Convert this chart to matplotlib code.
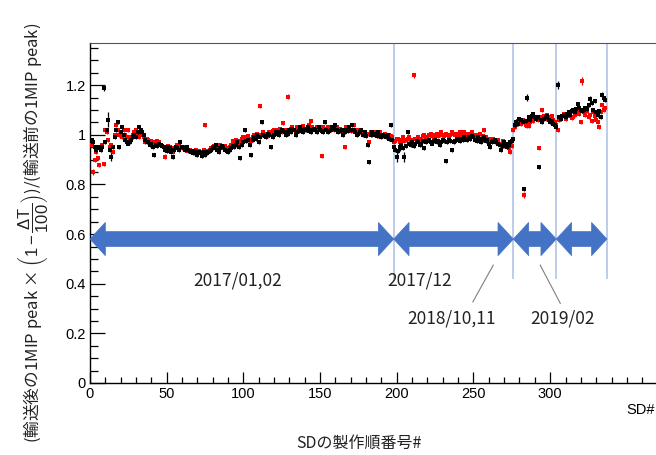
import numpy as np
import matplotlib
matplotlib.use("Agg")
import matplotlib.pyplot as plt
from matplotlib.patches import Polygon
from matplotlib.ticker import MultipleLocator, FixedLocator, FixedFormatter

plt.rcParams['font.family'] = ['Liberation Sans', 'DejaVu Sans']
plt.rcParams['mathtext.fontset'] = 'custom'
plt.rcParams['mathtext.rm'] = 'Liberation Sans'
plt.rcParams['mathtext.it'] = 'Liberation Sans:italic'
plt.rcParams['mathtext.bf'] = 'Liberation Sans:bold'

# ---------------- data ----------------
black = [
    0.98, 0.97, 0.95, 0.94, 0.95, 0.945, 0.94, 0.95, 1.19, 0.97,
    1.02, 1.06, 0.94, 0.91, 0.95, 0.99, 1.02, 1.05, 0.95, 1.01,
    1.03, 1.00, 0.98, 0.97, 0.965, 0.97, 0.98, 0.99, 1.00, 0.99,
    1.01, 1.03, 1.02, 1.01, 1.00, 0.98, 0.97, 0.97, 0.96, 0.965,
    0.95, 0.92, 0.96, 0.955, 0.965, 0.96, 0.955, 0.95, 0.94, 0.935,
    0.95, 0.945, 0.93, 0.91, 0.94, 0.95, 0.945, 0.94, 0.97, 0.95,
    0.945, 0.94, 0.95, 0.94, 0.935, 0.93, 0.925, 0.935, 0.93, 0.92,
    0.93, 0.925, 0.915, 0.93, 0.92, 0.925, 0.93, 0.935, 0.94, 0.945,
    0.95, 0.96, 0.94, 0.93, 0.945, 0.955, 0.95, 0.94, 0.935, 0.93,
    0.94, 0.945, 0.955, 0.95, 0.96, 0.97, 0.95, 0.905, 0.96, 0.97,
    1.02, 0.975, 0.98, 0.96, 0.92, 0.98, 0.99, 0.985, 1.00, 0.97,
    0.99, 1.05, 1.00, 0.995, 0.99, 1.005, 1.00, 0.95, 0.99, 1.00,
    1.01, 1.005, 1.00, 1.01, 1.02, 1.015, 1.01, 1.00, 1.005, 1.02,
    1.01, 1.025, 1.02, 1.00, 1.01, 1.015, 1.03, 1.02, 1.01, 1.025,
    1.02, 1.03, 1.015, 1.01, 1.02, 1.025, 1.02, 1.01, 1.03, 1.02,
    1.015, 1.01, 1.05, 1.02, 1.01, 1.015, 1.02, 1.03, 1.025, 1.04,
    1.02, 1.01, 1.015, 1.02, 1.00, 1.01, 1.02, 1.015, 1.03, 1.02,
    1.04, 1.02, 1.01, 1.00, 1.005, 1.01, 1.02, 1.00, 1.01, 0.995,
    0.96, 0.89, 1.00, 1.01, 1.005, 1.00, 0.995, 1.01, 1.00, 0.99,
    1.00, 0.995, 0.99, 1.00, 0.985, 1.04, 0.98,
    0.95, 0.94, 0.91, 0.935, 0.95, 0.96, 0.945, 0.91, 0.955, 1.01, 0.965, 0.96, 0.97,
    0.955, 0.965, 0.975, 0.97, 0.96, 0.965, 0.975, 0.945, 0.97, 0.975,
    0.98, 0.97, 0.965, 0.975, 0.98, 0.97, 0.975, 0.96, 0.97, 0.98,
    0.975, 0.895, 0.97, 0.98, 0.975, 0.94, 0.97, 0.975, 0.985, 0.98,
    0.975, 0.985, 0.98, 0.99, 0.985, 0.98, 0.99, 0.985, 0.995, 0.99,
    0.98, 0.975, 0.99, 0.985, 0.97, 0.98, 0.99, 0.975, 0.98, 0.965,
    0.95, 0.97, 0.975, 0.98, 0.97, 0.965, 0.96, 0.94, 0.955, 0.97,
    0.965, 0.95, 0.96, 0.97, 0.975,
    0.985, 1.04, 1.05, 1.045, 1.065, 1.06, 1.05, 0.78, 1.055, 1.15,
    1.07, 1.06, 1.075, 1.085, 1.07, 1.065, 1.07, 0.87, 1.06, 1.05,
    1.065, 1.07, 1.075, 1.06, 1.05, 1.055, 1.045, 1.04, 1.03,
    1.20, 1.07, 1.065, 1.075, 1.08, 1.07, 1.085, 1.09, 1.08, 1.095,
    1.10, 1.09, 1.105, 1.125, 1.11, 1.10, 1.095, 1.10, 1.11, 1.105,
    1.12, 1.145, 1.13, 1.10, 1.135, 1.09, 1.08, 1.095, 1.07, 1.16, 1.15, 1.14,
]

red = [
    0.96, 0.85, 0.90, 0.93, 0.905, 0.88, 0.95, 0.96, 0.882, 1.02,
    1.01, 0.98, 0.95, 0.96, 0.93, 1.00, 1.04, 1.02, 1.00, 1.01,
    0.99, 1.02, 1.00, 0.99, 1.02, 0.98, 0.99, 1.00, 1.01, 1.02,
    1.00, 0.99, 1.015, 1.00, 0.99, 0.97, 0.985, 0.98, 0.965, 0.975,
    0.97, 0.965, 0.96, 0.975, 0.97, 0.96, 0.955, 0.95, 0.911, 0.94,
    0.955, 0.95, 0.94, 0.93, 0.945, 0.95, 0.96, 0.955, 0.95, 0.945,
    0.95, 0.94, 0.945, 0.935, 0.94, 0.93, 0.935, 0.925, 0.94, 0.93,
    0.935, 0.93, 0.925, 0.94, 1.04, 0.93, 0.935, 0.94, 0.945, 0.95,
    0.955, 0.945, 0.94, 0.95, 0.96, 0.95, 0.945, 0.955, 0.94, 0.945,
    0.95, 0.96, 0.975, 0.965, 0.98, 0.97, 0.96, 0.975, 0.985, 0.99,
    0.98, 0.99, 0.995, 0.985, 0.975, 0.99, 1.00, 0.995, 1.005, 1.00,
    1.117, 1.00, 1.01, 1.005, 1.00, 0.995, 1.01, 1.005, 1.015, 1.02,
    1.01, 1.02, 1.015, 1.025, 1.01, 1.048, 1.02, 1.015, 1.153, 1.02,
    1.025, 1.03, 1.02, 1.015, 1.03, 1.025, 1.02, 1.03, 1.035, 1.02,
    1.025, 1.03, 1.04, 1.056, 1.03, 1.025, 1.02, 1.03, 1.025, 1.02,
    0.915, 1.03, 1.025, 1.02, 1.03, 1.015, 1.025, 1.03, 1.02, 1.025,
    1.03, 1.02, 1.025, 1.015, 1.02, 0.949, 1.03, 1.02, 1.025, 1.015,
    1.02, 1.039, 1.01, 1.02, 1.015, 1.01, 1.02, 1.005, 1.01, 1.00,
    1.005, 0.972, 1.01, 1.00, 1.005, 1.01, 1.00, 0.995, 1.01, 1.00,
    0.995, 1.005, 1.00, 0.99, 1.00, 0.995, 0.99,
    0.97, 0.975, 0.985, 0.985, 0.97, 0.98, 0.99, 0.975, 0.98, 0.985, 0.99, 0.98, 0.975,
    1.24, 0.985, 0.975, 0.99, 0.98, 0.985, 0.995, 1.00, 0.99, 0.985,
    1.00, 1.005, 0.995, 0.99, 1.00, 1.005, 0.995, 1.00, 1.01, 1.00,
    0.995, 1.005, 1.00, 0.99, 1.00, 1.01, 1.005, 1.00, 0.995, 1.005,
    1.01, 1.00, 1.005, 1.01, 1.005, 1.00, 0.995, 1.005, 1.01, 1.00,
    0.995, 1.00, 0.99, 1.005, 0.985, 0.995, 1.019, 0.99, 0.98, 0.985,
    0.975, 0.98, 0.985, 0.97, 0.975, 0.98, 0.96, 0.965, 0.975, 0.955,
    0.96, 0.95, 0.945, 0.932, 0.955,
    1.02, 1.033, 1.04, 1.055, 1.05, 1.045, 1.06, 0.757, 1.04, 1.035,
    1.035, 1.05, 1.06, 1.055, 1.07, 1.065, 1.06, 0.948, 1.07, 1.10,
    1.075, 1.065, 1.08, 1.07, 1.065, 1.075, 1.06, 1.05, 1.04,
    1.019, 1.06, 1.07, 1.075, 1.085, 1.065, 1.08, 1.09, 1.075, 1.066,
    1.07, 1.08, 1.09, 1.10, 1.085, 1.052, 1.217, 1.09, 1.08, 1.095,
    1.07, 1.08, 1.056, 1.09, 1.075, 1.06, 1.05, 1.033, 1.093, 1.12, 1.10, 1.11,
]

err_base = 0.008
black_err_big = {9: 0.012, 12: 0.03, 14: 0.015, 200: 0.02, 205: 0.02, 202: 0.015,
                 285: 0.015, 305: 0.015, 326: 0.012, 334: 0.012}
red_err_big = {2: 0.012, 49: 0.01, 129: 0.01, 211: 0.01, 283: 0.012, 321: 0.015}

period_edges = [0, 198, 276, 304, 337]
period_labels = ["2017/01,02", "2017/12", "2018/10,11", "2019/02"]

xticks = [0, 50, 100, 150, 200, 250, 300]
yticks = [0, 0.2, 0.4, 0.6, 0.8, 1.0, 1.2]
ytick_labels = ["0", "0.2", "0.4", "0.6", "0.8", "1", "1.2"]

# ---------------- figure ----------------
fig = plt.figure(figsize=(6.56, 4.55), dpi=100)
ax = fig.add_axes([90/656, 1-383/455, (656-90)/656, (383-43)/455])
ax.set_xlim(0, 369)
ax.set_ylim(0, 1.37)

xb = np.arange(1, len(black) + 1)
xr = np.arange(1, len(red) + 1)
eb = np.array([black_err_big.get(int(i), err_base) for i in xb])
er = np.array([red_err_big.get(int(i), err_base) for i in xr])

ax.errorbar(xr, red, yerr=er, fmt='s', color='#ff0000', ms=2.8, mew=0,
            elinewidth=0.9, capsize=1.8, capthick=0.9, zorder=3)
ax.errorbar(xb, black, yerr=eb, fmt='s', color='#000000', ms=2.8, mew=0,
            elinewidth=0.9, capsize=1.8, capthick=0.9, zorder=4)

# period boundaries
for xe in period_edges[1:]:
    ax.plot([xe, xe], [0.42, 1.37], color='#a9bfe6', lw=1.1, zorder=2,
            solid_capstyle='butt')

# double-headed arrows
ya, sh, hh, hl = 0.58, 0.03, 0.067, 10.0
for x0, x1 in zip(period_edges[:-1], period_edges[1:]):
    pts = [(x0, ya), (x0 + hl, ya + hh), (x0 + hl, ya + sh), (x1 - hl, ya + sh),
           (x1 - hl, ya + hh), (x1, ya), (x1 - hl, ya - hh), (x1 - hl, ya - sh),
           (x0 + hl, ya - sh), (x0 + hl, ya - hh)]
    ax.add_patch(Polygon(pts, closed=True, facecolor='#4472c4', edgecolor='#4472c4',
                         lw=0.5, zorder=5, clip_on=False))

lab_font = ['Noto Sans CJK JP', 'DejaVu Sans']
ax.text(96, 0.415, period_labels[0], ha='center', va='center', fontsize=12.5,
        family=lab_font, color='#222222')
ax.text(215, 0.415, period_labels[1], ha='center', va='center', fontsize=12.5,
        family=lab_font, color='#222222')
ax.text(236, 0.258, period_labels[2], ha='center', va='center', fontsize=12.5,
        family=lab_font, color='#222222')
ax.text(308, 0.258, period_labels[3], ha='center', va='center', fontsize=12.5,
        family=lab_font, color='#222222')
ax.plot([262.9, 249.6], [0.475, 0.327], color='#7f7f7f', lw=0.8)
ax.plot([293.5, 306.6], [0.475, 0.321], color='#7f7f7f', lw=0.8)

# axes styling (ROOT-like)
ax.spines['right'].set_visible(False)
ax.spines['top'].set_color('#555555')
ax.spines['left'].set_linewidth(1.0)
ax.spines['bottom'].set_linewidth(1.0)
ax.xaxis.set_major_locator(FixedLocator(xticks))
ax.xaxis.set_minor_locator(MultipleLocator(10))
ax.yaxis.set_major_locator(FixedLocator(yticks))
ax.yaxis.set_major_formatter(FixedFormatter(ytick_labels))
ax.yaxis.set_minor_locator(MultipleLocator(0.05))
ax.tick_params(axis='x', which='major', direction='in', length=8, width=0.9,
               labelsize=10.5, pad=3, top=False)
ax.tick_params(axis='x', which='minor', direction='in', length=4.5, width=0.9, top=False)
ax.tick_params(axis='y', which='major', direction='in', length=11, width=0.9,
               labelsize=10.5, pad=3, right=False)
ax.tick_params(axis='y', which='minor', direction='in', length=6, width=0.9, right=False)

fig.text(0.9985, 1-410/455, "SD#", ha='right', va='center', fontsize=10.5)
fig.text(359/656, 1-443/455, "SDの製作順番号#", ha='center', va='center',
         fontsize=11.5, family=lab_font, color='#222222')
fig.text(33/656, 1-233/455,
         r"(輸送後の1MIP peak × $\left(1-\dfrac{\Delta\mathrm{T}}{100}\right)$)/(輸送前の1MIP peak)",
         rotation=90, ha='center', va='center', fontsize=12, family=lab_font,
         color='#222222')

fig.savefig("out.png", dpi=100)
